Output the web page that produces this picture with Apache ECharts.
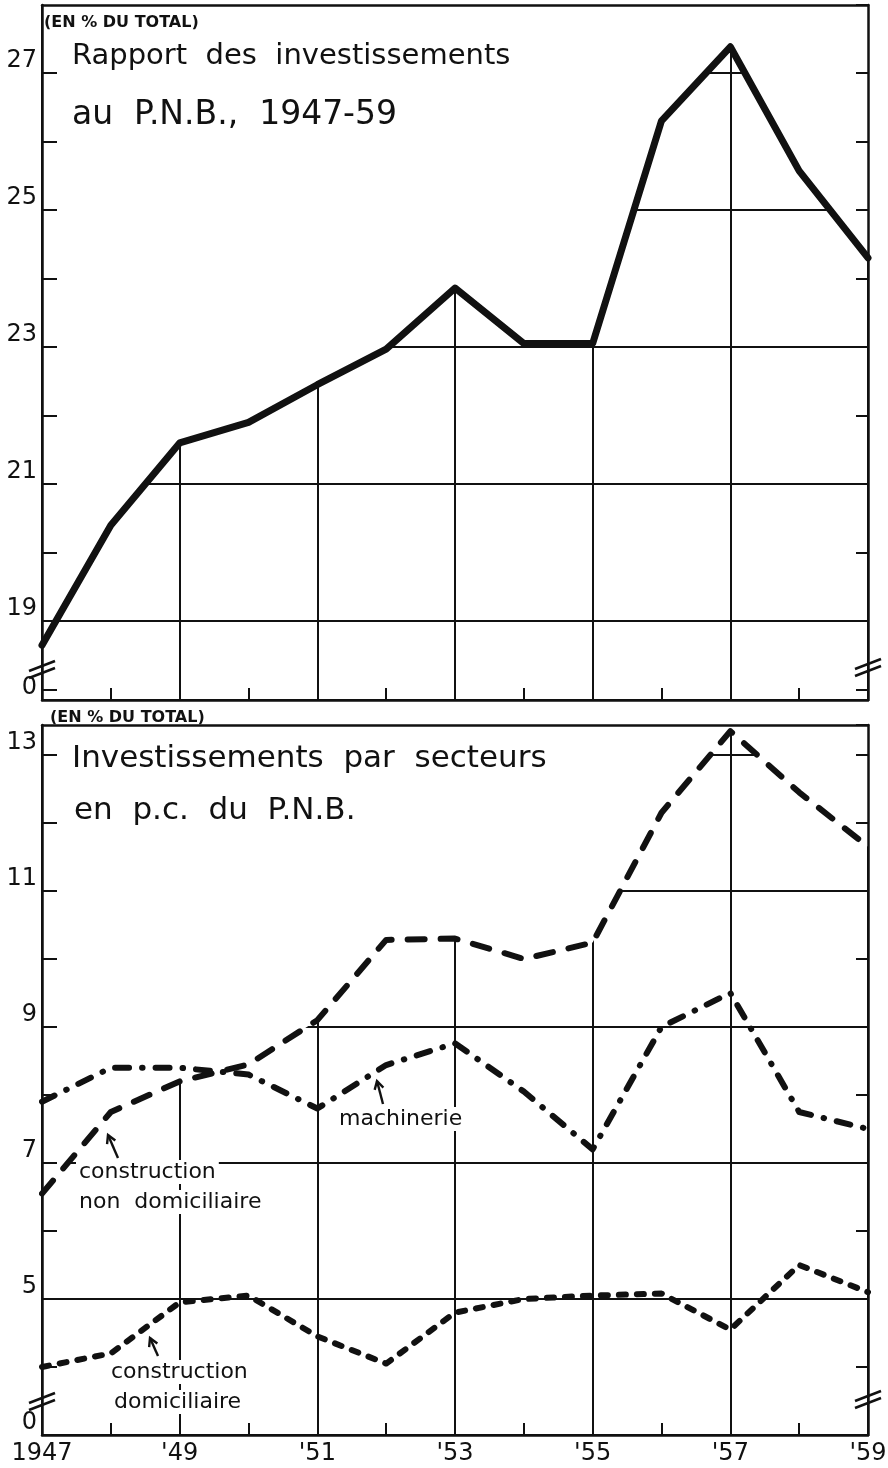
<!DOCTYPE html>
<html>
<head>
<meta charset="utf-8">
<title>Investissements 1947-59</title>
<script src="https://cdn.jsdelivr.net/npm/echarts@6/dist/echarts.min.js"></script>
<style>
  html, body { margin: 0; padding: 0; background: #fff; }
  #chart { width: 888px; height: 1468px; }
</style>
</head>
<body>
<div id="chart"></div>
<script>
// données
const years = [1947, 1948, 1949, 1950, 1951, 1952, 1953, 1954, 1955, 1956, 1957, 1958, 1959];
const rapportPnb = [18.65, 20.4, 21.6, 21.9, 22.45, 22.97, 23.86, 23.05, 23.05, 26.3, 27.38, 25.57, 24.3];
const nonDomiciliaire = [6.55, 7.75, 8.2, 8.45, 9.1, 10.28, 10.3, 10.0, 10.24, 12.15, 13.35, 12.45, 11.65];
const machinerie = [7.9, 8.4, 8.4, 8.3, 7.8, 8.44, 8.76, 8.05, 7.2, 9.0, 9.5, 7.75, 7.5];
const domiciliaire = [4.0, 4.2, 4.95, 5.05, 4.45, 4.05, 4.8, 5.0, 5.05, 5.08, 4.55, 5.5, 5.1];

// graduations
const xLabelYears = [1947, 1949, 1951, 1953, 1955, 1957, 1959];
const xLabelText = ['1947', "'49", "'51", "'53", "'55", "'57", "'59"];
const yLabelsTop = [19, 21, 23, 25, 27];
const yLabelsBottom = [5, 7, 9, 11, 13];
const rangeTop = [17.85, 27.99];     // bas de l'axe marqué "0" (axe coupé)
const rangeBottom = [3, 13.44];

const INK = '#111';
const FONT = '"DejaVu Sans", sans-serif';

const pairs = vals => years.map((y, i) => [y, vals[i]]);

function xAxes(gridIndex, showLabels) {
  const base = { gridIndex, type: 'value', min: 1947, max: 1959, interval: 1 };
  return [
    {
      ...base, position: 'bottom', z: 5,
      axisLine: { show: true, onZero: false, lineStyle: { color: INK, width: 2.5 } },
      axisTick: { show: true, inside: true, length: 12, lineStyle: { color: INK, width: 2 } },
      axisLabel: {
        show: showLabels, margin: 7, fontSize: 24, fontFamily: FONT, color: INK,
        formatter: v => {
          const i = xLabelYears.indexOf(v);
          return i < 0 ? '' : xLabelText[i];
        }
      },
      splitLine: { show: false }
    },
    {
      ...base, position: 'top', z: 5,
      axisLine: { show: true, onZero: false, lineStyle: { color: INK, width: 2.5 } },
      axisTick: { show: false }, axisLabel: { show: false }, splitLine: { show: false }
    },
    {
      // lignes verticales des années impaires (masquées au-dessus de la courbe)
      ...base, position: 'bottom', z: 0,
      axisLine: { show: false }, axisTick: { show: false }, axisLabel: { show: false },
      splitLine: { show: true, lineStyle: { color: [INK, 'transparent'], width: 2 } }
    }
  ];
}

function yAxes(gridIndex, range, labelVals) {
  const base = { gridIndex, type: 'value', min: range[0], max: range[1], minInterval: 1, maxInterval: 1 };
  return [
    {
      ...base, position: 'left', z: 5,
      axisLine: { show: true, onZero: false, lineStyle: { color: INK, width: 2.5 } },
      axisTick: { show: true, inside: true, length: 15, lineStyle: { color: INK, width: 2 } },
      axisLabel: {
        show: true, margin: 5, fontSize: 24, fontFamily: FONT, color: INK,
        verticalAlign: 'bottom', showMinLabel: true, showMaxLabel: false,
        formatter: v => {
          if (Math.abs(v - range[0]) < 1e-6) return '0';
          return labelVals.includes(v) ? String(v) : '';
        }
      },
      splitLine: { show: false }
    },
    {
      ...base, position: 'right', z: 5,
      axisLine: { show: true, onZero: false, lineStyle: { color: INK, width: 2.5 } },
      axisTick: { show: true, inside: true, length: 12, lineStyle: { color: INK, width: 2 } },
      axisLabel: { show: false }, splitLine: { show: false }
    },
    {
      ...base, position: 'left', z: 0,
      axisLine: { show: false }, axisTick: { show: false }, axisLabel: { show: false },
      splitLine: { show: true, lineStyle: { color: [INK, 'transparent'], width: 2 } }
    }
  ];
}

// cache blanc au-dessus de la courbe la plus haute : la grille n'apparaît que dessous
function mask(vals, axisIndex) {
  return {
    type: 'line', xAxisIndex: axisIndex, yAxisIndex: axisIndex, data: pairs(vals),
    showSymbol: false, silent: true, z: 2,
    lineStyle: { width: 0, opacity: 0 },
    areaStyle: { color: '#fff', opacity: 1, origin: 'end' }
  };
}

function curve(name, vals, axisIndex, width, type) {
  return {
    name, type: 'line', xAxisIndex: axisIndex, yAxisIndex: axisIndex, data: pairs(vals),
    showSymbol: false, z: 3,
    lineStyle: { color: INK, width, type, cap: 'round', join: 'round' }
  };
}

function text(str, x, y, size, extra) {
  return {
    type: 'text', x, y, z: 100,
    style: Object.assign({
      text: str, fill: INK, fontSize: size, fontFamily: FONT,
      verticalAlign: 'middle', align: 'left'
    }, extra || {})
  };
}

function arrow(tail, tip) {
  const dx = tip[0] - tail[0], dy = tip[1] - tail[1];
  const len = Math.hypot(dx, dy);
  const ux = dx / len, uy = dy / len;
  const h = 8, w = 4.5;
  const a = [tip[0] - ux * h - uy * w, tip[1] - uy * h + ux * w];
  const b = [tip[0] - ux * h + uy * w, tip[1] - uy * h - ux * w];
  const style = { stroke: INK, lineWidth: 2.4, fill: null };
  return [
    { type: 'polyline', z: 100, shape: { points: [tail, tip] }, style },
    { type: 'polyline', z: 100, shape: { points: [a, tip, b] }, style }
  ];
}

function breakMark(cx, cy) {
  const style = { stroke: INK, lineWidth: 2.5, fill: null };
  return [
    { type: 'polyline', z: 100, shape: { points: [[cx - 13, cy + 1], [cx + 13, cy - 9]] }, style },
    { type: 'polyline', z: 100, shape: { points: [[cx - 13, cy + 8], [cx + 13, cy - 2]] }, style }
  ];
}

const labelBox = { backgroundColor: '#fff', padding: [1, 3] };

const graphic = [
  text('(EN % DU TOTAL)', 44, 23, 16, { fontWeight: 'bold' }),
  text('Rapport  des  investissements', 72, 56, 29),
  text('au  P.N.B.,  1947-59', 72, 115, 33),
  text('(EN % DU TOTAL)', 50, 718, 16, { fontWeight: 'bold' }),
  text('Investissements  par  secteurs', 72, 759, 31),
  text('en  p.c.  du  P.N.B.', 74, 811, 31),
  text('machinerie', 336, 1119, 22, labelBox),
  text('construction', 76, 1172, 22, labelBox),
  text('non  domiciliaire', 76, 1202, 22, labelBox),
  text('construction', 108, 1372, 22, labelBox),
  text('domiciliaire', 111, 1402, 22, labelBox),
  ...arrow([383, 1104], [377, 1081]),
  ...arrow([118, 1158], [108, 1135]),
  ...arrow([158, 1356], [150, 1338]),
  ...breakMark(42, 670),
  ...breakMark(868, 668),
  ...breakMark(42, 1402),
  ...breakMark(868, 1400)
];

const option = {
  backgroundColor: '#fff',
  animation: false,
  grid: [
    { left: 42, right: 20, top: 5, height: 695, outerBoundsMode: 'none' },
    { left: 42, right: 20, top: 725, height: 710, outerBoundsMode: 'none' }
  ],
  xAxis: [...xAxes(0, false), ...xAxes(1, true)],
  yAxis: [...yAxes(0, rangeTop, yLabelsTop), ...yAxes(1, rangeBottom, yLabelsBottom)],
  series: [
    mask(rapportPnb, 0),
    curve('Rapport au P.N.B.', rapportPnb, 0, 7, 'solid'),
    mask(nonDomiciliaire, 3),
    curve('construction non domiciliaire', nonDomiciliaire, 3, 6, [17, 16]),
    curve('machinerie', machinerie, 3, 6, [14, 13, 0.5, 13]),
    curve('construction domiciliaire', domiciliaire, 3, 6, [7, 11])
  ],
  graphic
};

const chart = echarts.init(document.getElementById('chart'));
chart.setOption(option);
</script>
</body>
</html>
